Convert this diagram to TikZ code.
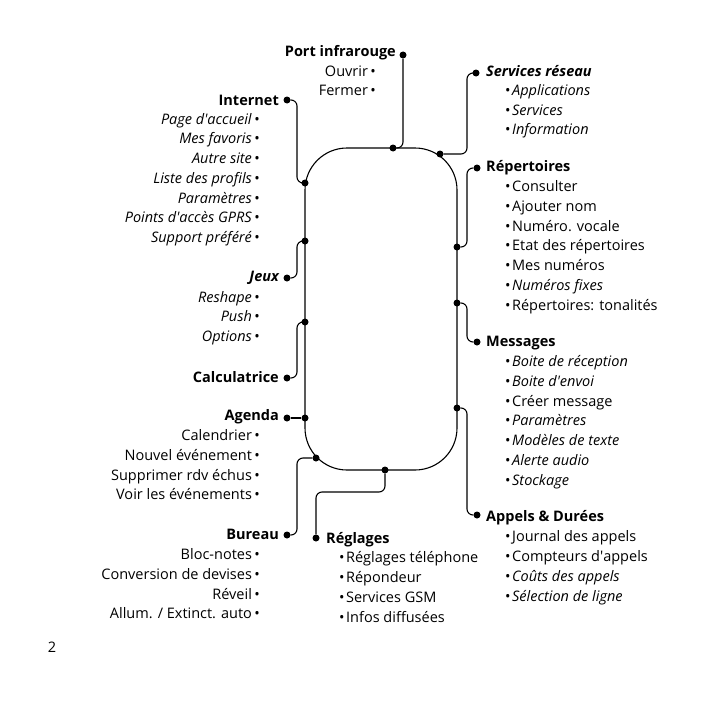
\documentclass[tikz,border=0pt]{standalone}
\usepackage{fontspec}
\setmainfont{Open Sans}
\newcommand{\fs}{\fontsize{14.5}{17}\selectfont}
\newcommand{\ap}{\textquotesingle}
\tikzset{
  dot/.style={circle,fill,inner sep=0pt,minimum size=7pt},
  txt/.style={inner sep=0pt,text height=8pt,text depth=4pt,font=\fs,yshift=-2.5pt},
  lhead/.style={txt,font=\fs\bfseries,anchor=east},
  rhead/.style={txt,font=\fs\bfseries,anchor=west},
  litem/.style={txt,anchor=east},
  ritem/.style={txt,anchor=west},
  link/.style={line width=1.1pt,rounded corners=6pt},
}
\begin{document}
\begin{tikzpicture}[x=1pt,y=-1pt]
  \useasboundingbox (0,0) rectangle (709,709);
  % phone outline
  \draw[line width=1.1pt,rounded corners=42pt] (305,148) rectangle (457,470);
  % dots on the outline
  \node[dot] (pirA) at (393,148) {};
  \node[dot] (srA) at (440,154) {};
  \node[dot] (inA) at (305,183) {};
  \node[dot] (jxA) at (305,241) {};
  \node[dot] (caA) at (305,322) {};
  \node[dot] (agA) at (305,418) {};
  \node[dot] (buA) at (316,458) {};
  \node[dot] (rgA) at (385,470) {};
  \node[dot] (reA) at (457,247) {};
  \node[dot] (meA) at (457,303) {};
  \node[dot] (apA) at (457,408) {};
  % dots next to the headings
  \node[dot] (pirB) at (403,55) {};
  \node[dot] (srB) at (476,73) {};
  \node[dot] (inB) at (287,100) {};
  \node[dot] (jxB) at (287,278) {};
  \node[dot] (caB) at (287,378) {};
  \node[dot] (agB) at (287,418) {};
  \node[dot] (buB) at (287,535) {};
  \node[dot] (rgB) at (316,538) {};
  \node[dot] (reB) at (477,168) {};
  \node[dot] (meB) at (477,342) {};
  \node[dot] (apB) at (477,515) {};
  % links
  \draw[link] (pirA) -| (pirB);
  \draw[link] (srA) -- ++(27,0) |- (srB);
  \draw[link] (inA) -- ++(-8,0) |- (inB);
  \draw[link] (jxA) -- ++(-8,0) |- (jxB);
  \draw[link] (caA) -- ++(-8,0) |- (caB);
  \draw[link] (agA) -- (agB);
  \draw[link] (buA) -- ++(-19,0) |- (buB);
  \draw[link] (rgA) -- ++(0,22) -| (rgB);
  \draw[link] (reA) -- ++(10,0) |- (reB);
  \draw[link] (meA) -- ++(10,0) |- (meB);
  \draw[link] (apA) -- ++(10,0) |- (apB);
  % headings
  \node[lhead] (pir) at (396,52) {Port infrarouge};
  \node[rhead] (sr) at (486,72) {\itshape Services réseau};
  \node[lhead] (inet) at (279,101) {Internet};
  \node[lhead] (jeux) at (279,277) {\itshape Jeux};
  \node[lhead] (calc) at (279,378) {Calculatrice};
  \node[lhead] (agenda) at (279,416) {Agenda};
  \node[lhead] (bureau) at (279,535) {Bureau};
  \node[rhead] (regl) at (326,539) {Réglages};
  \node[rhead] (rep) at (486,167) {Répertoires};
  \node[rhead] (mess) at (486,342) {Messages};
  \node[rhead] (app) at (486,517) {Appels \& Durées};
  % items
  \node[litem] (pir1) at (376,72) {Ouvrir\,•};
  \node[litem] (pir2) at (376,91) {Fermer\,•};
  \node[ritem] (sr1) at (505,91) {•\kern1.5pt\textit{Applications}};
  \node[ritem] (sr2) at (505,111) {•\kern1.5pt\textit{Services}};
  \node[ritem] (sr3) at (505,130) {•\kern1.5pt\textit{Information}};
  \node[litem] (in1) at (260,120) {\textit{Page d\ap accueil}\,•};
  \node[litem] (in2) at (260,139) {\textit{Mes favoris}\,•};
  \node[litem] (in3) at (260,159) {\textit{Autre site}\,•};
  \node[litem] (in4) at (260,179) {\textit{Liste des profils}\,•};
  \node[litem] (in5) at (260,199) {\textit{Paramètres}\,•};
  \node[litem] (in6) at (260,218) {\textit{Points d\ap accès GPRS}\,•};
  \node[litem] (in7) at (260,238) {\textit{Support préféré}\,•};
  \node[litem] (jx1) at (260,298) {\textit{Reshape}\,•};
  \node[litem] (jx2) at (260,317) {\textit{Push}\,•};
  \node[litem] (jx3) at (260,337) {\textit{Options}\,•};
  \node[litem] (ag1) at (260,436) {Calendrier\,•};
  \node[litem] (ag2) at (260,456) {Nouvel événement\,•};
  \node[litem] (ag3) at (260,476) {Supprimer rdv échus\,•};
  \node[litem] (ag4) at (260,495) {Voir les événements\,•};
  \node[litem] (bu1) at (260,555) {Bloc-notes\,•};
  \node[litem] (bu2) at (260,575) {Conversion de devises\,•};
  \node[litem] (bu3) at (260,595) {Réveil\,•};
  \node[litem] (bu4) at (260,614) {Allum. / Extinct. auto\,•};
  \node[ritem] (rg1) at (339,558) {•\kern1.5pt Réglages téléphone};
  \node[ritem] (rg2) at (339,578) {•\kern1.5pt Répondeur};
  \node[ritem] (rg3) at (339,598) {•\kern1.5pt Services GSM};
  \node[ritem] (rg4) at (339,618) {•\kern1.5pt Infos diffusées};
  \node[ritem] (re1) at (505,187) {•\kern1.5pt Consulter};
  \node[ritem] (re2) at (505,207) {•\kern1.5pt Ajouter nom};
  \node[ritem] (re3) at (505,227) {•\kern1.5pt Numéro. vocale};
  \node[ritem] (re4) at (505,246) {•\kern1.5pt Etat des répertoires};
  \node[ritem] (re5) at (505,266) {•\kern1.5pt Mes numéros};
  \node[ritem] (re6) at (505,286) {•\kern1.5pt\textit{Numéros fixes}};
  \node[ritem] (re7) at (505,306) {•\kern1.5pt Répertoires: tonalités};
  \node[ritem] (me1) at (505,362) {•\kern1.5pt\textit{Boite de réception}};
  \node[ritem] (me2) at (505,382) {•\kern1.5pt\textit{Boite d\ap envoi}};
  \node[ritem] (me3) at (505,402) {•\kern1.5pt Créer message};
  \node[ritem] (me4) at (505,421) {•\kern1.5pt\textit{Paramètres}};
  \node[ritem] (me5) at (505,441) {•\kern1.5pt\textit{Modèles de texte}};
  \node[ritem] (me6) at (505,461) {•\kern1.5pt\textit{Alerte audio}};
  \node[ritem] (me7) at (505,481) {•\kern1.5pt\textit{Stockage}};
  \node[ritem] (ap1) at (505,537) {•\kern1.5pt Journal des appels};
  \node[ritem] (ap2) at (505,557) {•\kern1.5pt Compteurs d\ap appels};
  \node[ritem] (ap3) at (505,577) {•\kern1.5pt\textit{Coûts des appels}};
  \node[ritem] (ap4) at (505,597) {•\kern1.5pt\textit{Sélection de ligne}};
  % page number
  \node[txt] (page) at (52,648) {2};
\end{tikzpicture}
\end{document}
